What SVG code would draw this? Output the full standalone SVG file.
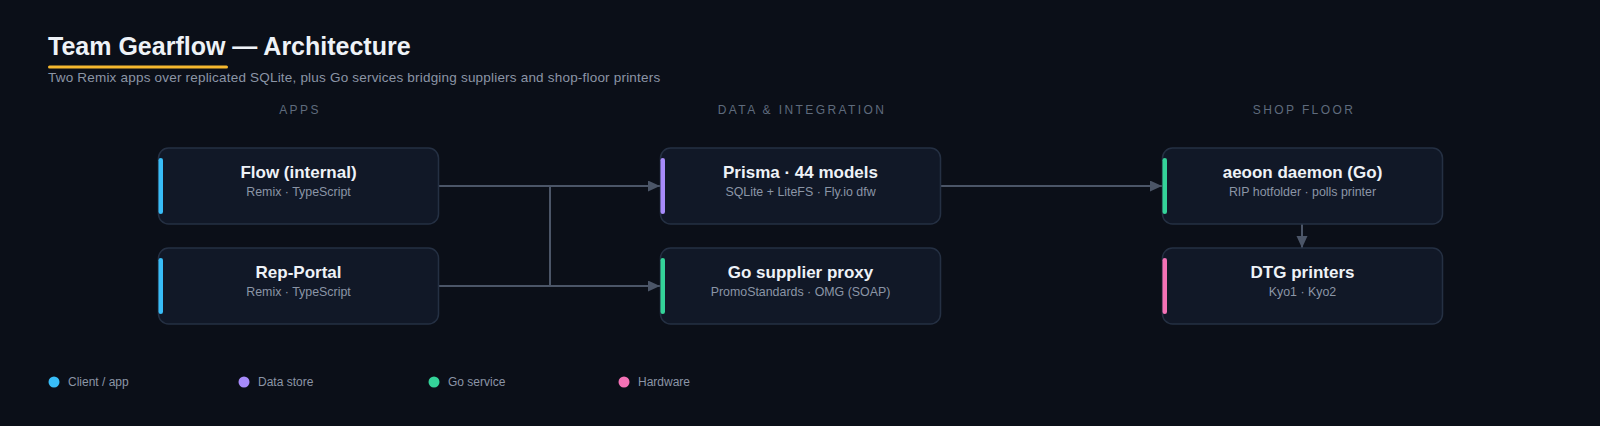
<svg xmlns="http://www.w3.org/2000/svg" width="1600" height="426" viewBox="0 0 1600 426">
  <defs>
    <style>
      .title { font-family: "Liberation Sans", Arial, sans-serif; font-weight: 700; font-size: 25px; fill: #eef2f7; }
      .subtitle { font-family: "Liberation Sans", Arial, sans-serif; font-size: 13.5px; letter-spacing: 0.2px; fill: #8b95a6; }
      .colhead { font-family: "Liberation Sans", Arial, sans-serif; font-size: 12px; letter-spacing: 2.4px; fill: #5f6b7d; text-anchor: middle; }
      .box { fill: #111827; stroke: #253043; stroke-width: 1.5; }
      .ntitle { font-family: "Liberation Sans", Arial, sans-serif; font-weight: 700; font-size: 17px; fill: #eef2f7; text-anchor: middle; }
      .nsub { font-family: "Liberation Sans", Arial, sans-serif; font-size: 12.4px; fill: #8b95a6; text-anchor: middle; }
      .edge { fill: none; stroke: #4b5567; stroke-width: 2; }
      .legend { font-family: "Liberation Sans", Arial, sans-serif; font-size: 12px; fill: #8b95a6; }
    </style>
    <marker id="arrow" markerUnits="userSpaceOnUse" markerWidth="13" markerHeight="12" refX="12" refY="5.5" orient="auto">
      <path d="M0,0 L12,5.5 L0,11 z" fill="#4b5567"/>
    </marker>
  </defs>

  <rect x="0" y="0" width="1600" height="426" fill="#0b0f18"/>

  <g id="header">
    <text class="title" x="48" y="54.5">Team Gearflow — Architecture</text>
    <rect x="48" y="65.5" width="180" height="3" rx="1.5" fill="#f5b82e"/>
    <text class="subtitle" x="48" y="82">Two Remix apps over replicated SQLite, plus Go services bridging suppliers and shop-floor printers</text>
  </g>

  <g id="column-headers">
    <text class="colhead" x="300" y="114">APPS</text>
    <text class="colhead" x="802" y="114">DATA &amp; INTEGRATION</text>
    <text class="colhead" x="1304" y="114">SHOP FLOOR</text>
  </g>

  <g id="connectors">
    <path class="edge" d="M438,186 L550,186 L550,286 L660,286" marker-end="url(#arrow)"/>
    <path class="edge" d="M438,286 L550,286 L550,186 L660,186" marker-end="url(#arrow)"/>
    <path class="edge" d="M940,186 L1162,186" marker-end="url(#arrow)"/>
    <path class="edge" d="M1302,224 L1302,248" marker-end="url(#arrow)"/>
  </g>

  <g id="node-flow">
    <rect class="box" x="158.5" y="148" width="280" height="76" rx="10"/>
    <rect x="158.5" y="158" width="4.5" height="56" rx="2.25" fill="#38bdf8"/>
    <text class="ntitle" x="298.5" y="178">Flow (internal)</text>
    <text class="nsub" x="298.5" y="196">Remix · TypeScript</text>
  </g>

  <g id="node-rep-portal">
    <rect class="box" x="158.5" y="248" width="280" height="76" rx="10"/>
    <rect x="158.5" y="258" width="4.5" height="56" rx="2.25" fill="#38bdf8"/>
    <text class="ntitle" x="298.5" y="278">Rep-Portal</text>
    <text class="nsub" x="298.5" y="296">Remix · TypeScript</text>
  </g>

  <g id="node-prisma">
    <rect class="box" x="660.5" y="148" width="280" height="76" rx="10"/>
    <rect x="660.5" y="158" width="4.5" height="56" rx="2.25" fill="#a78bfa"/>
    <text class="ntitle" x="800.5" y="178">Prisma · 44 models</text>
    <text class="nsub" x="800.5" y="196">SQLite + LiteFS · Fly.io dfw</text>
  </g>

  <g id="node-go-proxy">
    <rect class="box" x="660.5" y="248" width="280" height="76" rx="10"/>
    <rect x="660.5" y="258" width="4.5" height="56" rx="2.25" fill="#34d399"/>
    <text class="ntitle" x="800.5" y="278">Go supplier proxy</text>
    <text class="nsub" x="800.5" y="296">PromoStandards · OMG (SOAP)</text>
  </g>

  <g id="node-aeoon">
    <rect class="box" x="1162.5" y="148" width="280" height="76" rx="10"/>
    <rect x="1162.5" y="158" width="4.5" height="56" rx="2.25" fill="#34d399"/>
    <text class="ntitle" x="1302.5" y="178">aeoon daemon (Go)</text>
    <text class="nsub" x="1302.5" y="196">RIP hotfolder · polls printer</text>
  </g>

  <g id="node-dtg">
    <rect class="box" x="1162.5" y="248" width="280" height="76" rx="10"/>
    <rect x="1162.5" y="258" width="4.5" height="56" rx="2.25" fill="#f472b6"/>
    <text class="ntitle" x="1302.5" y="278">DTG printers</text>
    <text class="nsub" x="1302.5" y="296">Kyo1 · Kyo2</text>
  </g>

  <g id="legend">
    <circle cx="54" cy="382" r="5.5" fill="#38bdf8"/>
    <text class="legend" x="68" y="386">Client / app</text>
    <circle cx="244" cy="382" r="5.5" fill="#a78bfa"/>
    <text class="legend" x="258" y="386">Data store</text>
    <circle cx="434" cy="382" r="5.5" fill="#34d399"/>
    <text class="legend" x="448" y="386">Go service</text>
    <circle cx="624" cy="382" r="5.5" fill="#f472b6"/>
    <text class="legend" x="638" y="386">Hardware</text>
  </g>
</svg>
